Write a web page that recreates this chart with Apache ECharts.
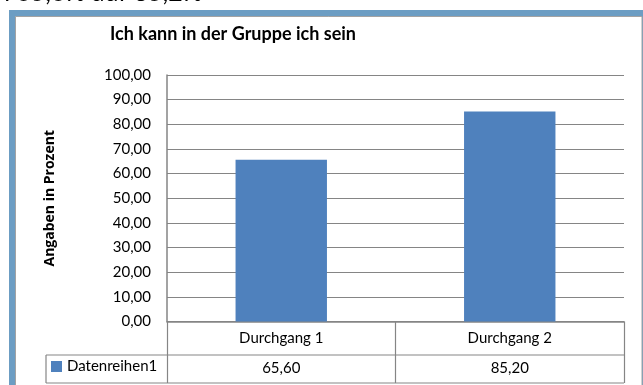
<!DOCTYPE html>
<html>
<head>
<meta charset="utf-8">
<script src="https://cdn.jsdelivr.net/npm/echarts@6/dist/echarts.min.js"></script>
<style>
  html, body { margin: 0; padding: 0; background: #fff; }
  #chart { width: 643px; height: 385px; }
</style>
</head>
<body>
<div id="chart"></div>
<script>
// Survey result: share of participants agreeing, per round
const categories = ['Durchgang 1', 'Durchgang 2'];
const seriesName = 'Datenreihen1';
const seriesValues = [65.60, 85.20];
const chartTitle = 'Ich kann in der Gruppe ich sein';
const yAxisTitle = 'Angaben in Prozent';
const headline = 'n 65,6% auf 85,2%';
const yMin = 0, yMax = 100, yStep = 10;

// German number format with two decimals
const fmt = v => v.toFixed(2).replace('.', ',');

// plot box (pixels)
const plotLeft = 167, plotRight = 624, plotTop = 75, plotBottom = 321.5;
const W = 643, H = 385;
const rowH = 33.5;            // height of the category row of the data table
const tableBottom = 383;
const legendCellLeft = 46;

const FONT = 'Lato, "Open Sans", sans-serif';
const GRID_GRAY = '#858585';
const BAR_BLUE = '#4F81BD';

const chart = echarts.init(document.getElementById('chart'), null, { renderer: 'canvas' });

const tableLineY = plotBottom + rowH;

chart.setOption({
  animation: false,
  backgroundColor: '#fff',
  textStyle: { fontFamily: FONT },
  title: {
    text: chartTitle,
    left: 110,
    top: 25,
    padding: 0,
    textStyle: { fontFamily: FONT, fontSize: 18, fontWeight: 'bold', color: '#000' }
  },
  legend: {
    data: [seriesName],
    left: 51,
    top: 359,
    padding: 0,
    itemWidth: 11,
    itemHeight: 11,
    icon: 'rect',
    textStyle: { fontFamily: FONT, fontSize: 15, color: '#000' }
  },
  grid: {
    left: plotLeft,
    right: W - plotRight,
    top: plotTop,
    bottom: H - plotBottom,
    containLabel: false,
    outerBoundsMode: 'none'
  },
  xAxis: [
    {
      type: 'category',
      data: categories,
      position: 'bottom',
      boundaryGap: true,
      axisLine: { show: true, lineStyle: { color: GRID_GRAY, width: 1.5 } },
      axisTick: { show: true, alignWithLabel: false, length: tableBottom - plotBottom, lineStyle: { color: GRID_GRAY, width: 1.2 } },
      axisLabel: { margin: 9, fontFamily: FONT, fontSize: 15, color: '#000' },
      splitLine: { show: false }
    },
    {
      // value row of the data table
      type: 'category',
      data: seriesValues.map(fmt),
      position: 'bottom',
      offset: rowH,
      boundaryGap: true,
      axisLine: { show: false },
      axisTick: { show: false },
      axisLabel: { margin: 6, fontFamily: FONT, fontSize: 15, color: '#000' },
      splitLine: { show: false }
    }
  ],
  yAxis: {
    type: 'value',
    min: yMin,
    max: yMax,
    interval: yStep,
    name: yAxisTitle,
    nameLocation: 'middle',
    nameRotate: 90,
    nameGap: 110,
    nameTextStyle: { fontFamily: '"Open Sans", Lato, sans-serif', fontSize: 14, fontWeight: 'bold', color: '#000' },
    axisLine: { show: true, lineStyle: { color: GRID_GRAY, width: 1.5 } },
    axisTick: { show: false },
    axisLabel: { margin: 16, fontFamily: FONT, fontSize: 15, color: '#000', formatter: fmt },
    splitLine: { show: true, lineStyle: { color: GRID_GRAY, width: 1.2 } }
  },
  series: [
    {
      name: seriesName,
      type: 'bar',
      xAxisIndex: 0,
      data: seriesValues,
      barWidth: '40%',
      itemStyle: { color: BAR_BLUE }
    }
  ],
  graphic: [
    // text line of the surrounding document, clipped at the top edge
    {
      type: 'text', z: 10, silent: true,
      x: -4, y: -7,
      style: { text: headline, fontFamily: FONT, fontSize: 25, fill: '#000', verticalAlign: 'middle' }
    },
    // blue frame around the embedded chart
    { type: 'rect', z: -30, silent: true, shape: { x: 9, y: 10, width: 700, height: 400 }, style: { fill: '#6C9DC3' } },
    { type: 'rect', z: -25, silent: true, shape: { x: 15.5, y: 16.5, width: 626.5, height: 400 }, style: { fill: '#fff', stroke: '#a3a3a3', lineWidth: 1 } },
    // data table rules
    { type: 'line', silent: true, shape: { x1: legendCellLeft, y1: tableLineY, x2: plotRight, y2: tableLineY }, style: { stroke: GRID_GRAY, lineWidth: 1.2 } },
    { type: 'line', silent: true, shape: { x1: legendCellLeft, y1: tableBottom, x2: plotRight, y2: tableBottom }, style: { stroke: GRID_GRAY, lineWidth: 1.2 } },
    { type: 'line', silent: true, shape: { x1: legendCellLeft, y1: tableLineY, x2: legendCellLeft, y2: tableBottom }, style: { stroke: GRID_GRAY, lineWidth: 1.2 } }
  ]
});
</script>
</body>
</html>
